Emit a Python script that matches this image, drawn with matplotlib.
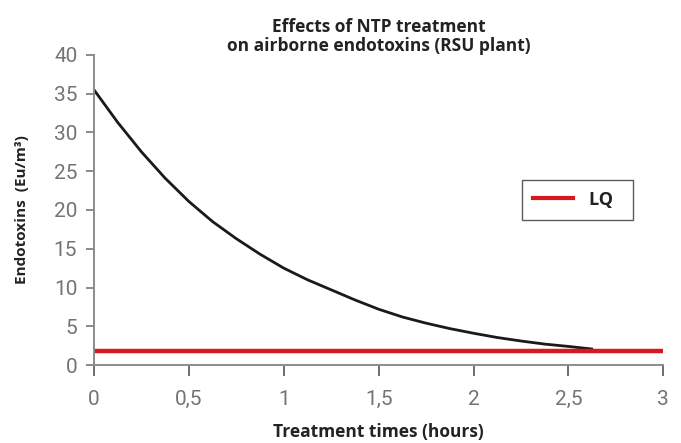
import matplotlib.pyplot as plt
from matplotlib.ticker import FixedLocator

# values
hours = [0, 0.125, 0.25, 0.375, 0.5, 0.625, 0.75, 0.875, 1.0, 1.125, 1.25,
         1.375, 1.5, 1.625, 1.75, 1.875, 2.0, 2.125, 2.25, 2.375, 2.5, 2.63]
endotoxins = [35.5, 31.3, 27.5, 24.1, 21.1, 18.5, 16.3, 14.3, 12.5, 11.0, 9.7,
              8.4, 7.2, 6.2, 5.4, 4.7, 4.1, 3.55, 3.1, 2.7, 2.4, 2.05]
lq_level = 1.8

x_ticks = [0, 0.5, 1, 1.5, 2, 2.5, 3]
x_labels = ['0', '0,5', '1', '1,5', '2', '2,5', '3']
y_ticks = [0, 5, 10, 15, 20, 25, 30, 35, 40]

fig = plt.figure(figsize=(6.81, 4.43), dpi=100)
ax = fig.add_axes([0.138, 0.176, 0.836, 0.700])

ax.plot(hours, endotoxins, color='#1a1a1a', lw=2.0, solid_capstyle='butt',
        solid_joinstyle='round')
ax.axhline(lq_level, color='#d7191f', lw=3.2, label='LQ  ')

ax.set_xlim(0, 3)
ax.set_ylim(0, 40)
ax.xaxis.set_major_locator(FixedLocator(x_ticks))
ax.set_xticklabels(x_labels)
ax.yaxis.set_major_locator(FixedLocator(y_ticks))

for s in ['top', 'right']:
    ax.spines[s].set_visible(False)
for s in ['left', 'bottom']:
    ax.spines[s].set_color('#8c8c8c')
    ax.spines[s].set_linewidth(1.4)

ax.tick_params(axis='y', direction='out', length=6, width=1.2, color='#777777',
               labelsize=15, labelcolor='#747474', pad=6)
ax.tick_params(axis='x', direction='out', length=8, width=1.2, color='#555555',
               labelsize=15, labelcolor='#747474', pad=10)
for lab in ax.get_xticklabels() + ax.get_yticklabels():
    lab.set_family('Roboto')

ax.set_title('Effects of NTP treatment\non airborne endotoxins (RSU plant)',
             family='Open Sans', fontweight='bold', fontsize=12.5,
             color='#222222', pad=2, linespacing=1.05)
ax.set_xlabel('Treatment times (hours)', family='Open Sans', fontweight='bold',
              fontsize=12.5, color='#222222', labelpad=10)
ax.set_ylabel('Endotoxins  (Eu/m³)', family='Open Sans', fontweight='bold',
              fontsize=11, color='#222222', labelpad=18)

leg = ax.legend(loc='upper left', bbox_to_anchor=(0.752, 0.597), frameon=True,
                fancybox=False, handlelength=2.2, handletextpad=0.9,
                borderpad=0.6, borderaxespad=0,
                prop={'family': 'Open Sans', 'weight': 'bold', 'size': 13})
leg.get_frame().set_edgecolor('#333333')
leg.get_frame().set_linewidth(1.0)
leg.get_lines()[0].set_linewidth(3.0)
for t in leg.get_texts():
    t.set_color('#222222')

fig.savefig('out.png', dpi=100)
